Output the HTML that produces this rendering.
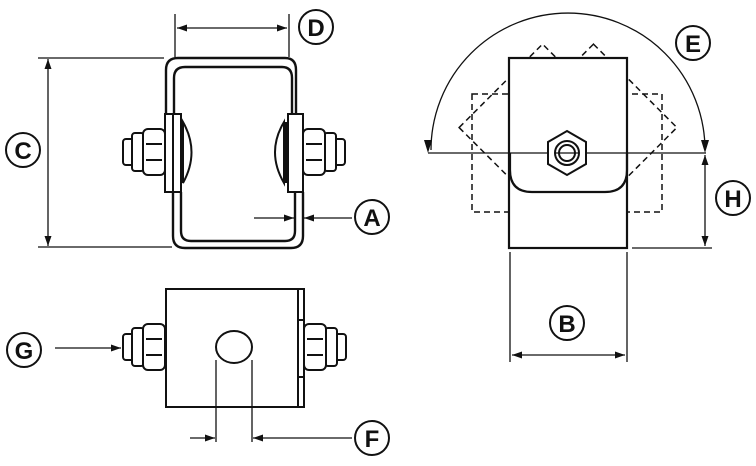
<!DOCTYPE html>
<html><head><meta charset="utf-8"><style>html,body{margin:0;padding:0;background:#fff}svg{display:block}</style></head><body>
<svg width="756" height="466" viewBox="0 0 756 466" xmlns="http://www.w3.org/2000/svg">
<defs>
<marker id="ar" viewBox="0 0 10 10" refX="10" refY="5" markerWidth="10" markerHeight="10" markerUnits="userSpaceOnUse" orient="auto"><path d="M0,1.5 L10,5 L0,8.5 Z" fill="#111"/></marker>
<clipPath id="cR"><rect x="568" y="0" width="200" height="180"/></clipPath>
<clipPath id="cL"><rect x="380" y="0" width="188" height="180"/></clipPath>
<g id="nutL" fill="#fff" stroke="#111" stroke-width="2">
 <rect x="123" y="-13" width="11" height="26" rx="3"/>
 <rect x="132" y="-19" width="12" height="38" rx="3"/>
 <rect x="143" y="-23" width="22" height="46" rx="5"/>
 <path d="M146,-8 H162 M146,8 H162" fill="none"/>
</g>
</defs>
<g fill="none" stroke="#111" stroke-width="1.3">
<line x1="175" y1="14" x2="175" y2="57"/><line x1="289" y1="14" x2="289" y2="57"/>
<line x1="232" y1="28" x2="287" y2="28" marker-end="url(#ar)"/>
<line x1="232" y1="28" x2="177" y2="28" marker-end="url(#ar)"/>
<line x1="38" y1="58" x2="164" y2="58"/><line x1="38" y1="247" x2="172" y2="247"/>
<line x1="48" y1="150" x2="48" y2="59" marker-end="url(#ar)"/>
<line x1="48" y1="150" x2="48" y2="246" marker-end="url(#ar)"/>
<line x1="254" y1="218" x2="294" y2="218" marker-end="url(#ar)"/>
<line x1="352" y1="218" x2="304" y2="218" marker-end="url(#ar)"/>
<line x1="190" y1="438" x2="215" y2="438" marker-end="url(#ar)"/>
<line x1="352" y1="438" x2="253" y2="438" marker-end="url(#ar)"/>
<line x1="55" y1="348" x2="121" y2="348" marker-end="url(#ar)"/>
</g>
<g fill="none" stroke="#111" stroke-width="2.4">
<path d="M166,192 V70 Q166,58 178,58 H285 Q296,58 296,70 V114"/>
<path d="M303,192 V236 Q303,248 291,248 H185 Q173,248 173,236 V192"/>
<path d="M174,114 V78 Q174,67 185,67 H282 Q292,67 292,78 V114"/>
<path d="M295,192 V231 Q295,241 285,241 H191 Q181,241 181,231 V192"/>
</g>
<g stroke="#111" stroke-width="2" fill="#fff">
<rect x="165" y="114" width="8" height="78"/>
<rect x="288" y="114" width="15" height="78"/>
<rect x="173" y="114" width="8" height="78"/>
<path d="M183,122 Q200,152 183,183 Z"/>
<path d="M284,122 Q266,152 284,183 Z"/>
</g>
<rect x="180" y="122" width="4" height="61" fill="#111"/>
<rect x="283" y="122" width="4" height="61" fill="#111"/>
<use href="#nutL" transform="translate(0,152)"/>
<use href="#nutL" transform="translate(468,152) scale(-1,1)"/>
<g stroke="#111" stroke-width="2" fill="#fff">
<rect x="166" y="289" width="132" height="118"/>
<path d="M298,289 H304 V407 H298 M298,320 H304 M298,377 H304" fill="none"/>
<ellipse cx="234" cy="347" rx="18" ry="16"/>
</g>
<g stroke="#111" stroke-width="1.3">
<line x1="216" y1="360" x2="216" y2="442"/><line x1="252" y1="360" x2="252" y2="442"/>
</g>
<use href="#nutL" transform="translate(0,347)"/>
<use href="#nutL" transform="translate(469,347) scale(-1,1)"/>
<g fill="none" stroke="#111" stroke-width="1.5" stroke-dasharray="6,4">
<rect x="472" y="94" width="190" height="118"/>
<g clip-path="url(#cR)"><rect x="509" y="58" width="118" height="190" transform="rotate(45 568 153)"/></g>
<g clip-path="url(#cL)"><rect x="509" y="58" width="118" height="190" transform="rotate(-45 568 153)"/></g>
</g>
<rect x="509" y="58" width="118" height="190" fill="#fff" stroke="#111" stroke-width="2.2"/>
<g fill="none" stroke="#111" stroke-width="1.3">
<path d="M428,153 H706"/>
<path d="M431,150 A137,137 0 0 1 705,150"/>
<line x1="632" y1="248" x2="712" y2="248"/>
<line x1="705" y1="200" x2="705" y2="155" marker-end="url(#ar)"/>
<line x1="705" y1="200" x2="705" y2="246" marker-end="url(#ar)"/>
<line x1="510" y1="252" x2="510" y2="362"/><line x1="627" y1="252" x2="627" y2="362"/>
<line x1="567" y1="355" x2="512" y2="355" marker-end="url(#ar)"/>
<line x1="567" y1="355" x2="625" y2="355" marker-end="url(#ar)"/>
</g>
<path d="M424,140 L432,140 L428,153 Z M701,140 L709,140 L705,153 Z" fill="#111"/>
<path d="M510,153 V170 Q510,192 532,192 H605 Q627,192 627,170 V153" fill="none" stroke="#111" stroke-width="2.2"/>
<g fill="#fff" stroke="#111" stroke-width="2">
<polygon points="567,131 586,142 586,164 567,175 548,164 548,142"/>
<circle cx="567" cy="153" r="12"/><circle cx="567" cy="153" r="8"/>
</g>
<line x1="555" y1="153" x2="579" y2="153" stroke="#111" stroke-width="1.3"/>
<g fill="#fff" stroke="#111" stroke-width="2">
<circle cx="316" cy="27" r="17"/><circle cx="23" cy="150" r="17"/><circle cx="372" cy="217" r="17"/>
<circle cx="372" cy="438" r="17"/><circle cx="24" cy="350" r="17"/><circle cx="693" cy="43" r="17"/>
<circle cx="733" cy="198" r="17"/><circle cx="567" cy="323" r="17"/>
</g>
<g font-family="Liberation Sans, sans-serif" font-weight="bold" font-size="24" text-anchor="middle" fill="#111">
<text x="316" y="36">D</text><text x="23" y="159">C</text><text x="372" y="226">A</text>
<text x="372" y="447">F</text><text x="24" y="359">G</text><text x="693" y="52">E</text>
<text x="733" y="207">H</text><text x="567" y="332">B</text>
</g>
</svg>
</body></html>
